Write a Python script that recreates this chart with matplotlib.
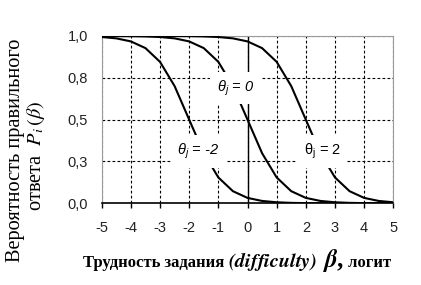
import matplotlib
matplotlib.use("Agg")
import matplotlib.pyplot as plt

# ---- data ----
beta = [-5.0, -4.5, -4.0, -3.5, -3.0, -2.5, -2.0, -1.5, -1.0, -0.5, 0.0,
        0.5, 1.0, 1.5, 2.0, 2.5, 3.0, 3.5, 4.0, 4.5, 5.0]
p_theta_m2 = [0.9939, 0.9859, 0.9677, 0.9276, 0.8455, 0.7006, 0.5000, 0.2994, 0.1545, 0.0724, 0.0323,
              0.0141, 0.0061, 0.0026, 0.0011, 0.0005, 0.0002, 0.0001, 0.0000, 0.0000, 0.0000]
p_theta_0 = [0.9998, 0.9995, 0.9989, 0.9974, 0.9939, 0.9859, 0.9677, 0.9276, 0.8455, 0.7006, 0.5000,
             0.2994, 0.1545, 0.0724, 0.0323, 0.0141, 0.0061, 0.0026, 0.0011, 0.0005, 0.0002]
p_theta_p2 = [1.0000, 1.0000, 0.9999, 0.9999, 0.9998, 0.9995, 0.9989, 0.9974, 0.9939, 0.9859, 0.9677,
              0.9276, 0.8455, 0.7006, 0.5000, 0.2994, 0.1545, 0.0724, 0.0323, 0.0141, 0.0061]
x_ticks = [-5, -4, -3, -2, -1, 0, 1, 2, 3, 4, 5]
y_ticks = [0.0, 0.25, 0.5, 0.75, 1.0]
y_tick_labels = ["0,0", "0,3", "0,5", "0,8", "1,0"]
curve_labels = [r"$\mathregular{\theta_j}$ = 0",
                r"$\mathregular{\theta_j}$ = -2",
                r"$\mathregular{\theta_j}$ = 2"]
curve_label_styles = ["italic", "italic", "normal"]
label_pos = [(-0.41, 0.69), (-1.68, 0.31), (2.57, 0.31)]

W, H = 421, 285
fig = plt.figure(figsize=(W / 100, H / 100), dpi=100)
ax = fig.add_axes([101.7 / W, 1 - 203.3 / H, (393.3 - 101.7) / W, (203.3 - 36) / H])

for yv in [p_theta_m2, p_theta_0, p_theta_p2]:
    ax.plot(beta, yv, color="black", lw=1.5, zorder=3)

ax.set_xlim(-5, 5)
ax.set_ylim(0, 1)
ax.set_xticks(x_ticks)
ax.set_xticklabels([str(v) for v in x_ticks])
ax.set_yticks(y_ticks)
ax.set_yticklabels(y_tick_labels)
ax.grid(True, color="black", linestyle=(0, (2.5, 2)), lw=0.8, zorder=1)
ax.axvline(0, color="black", lw=1.0, zorder=2)

for side in ["left", "top", "right"]:
    ax.spines[side].set_color("#9a9a9a")
    ax.spines[side].set_linewidth(0.8)
ax.spines["bottom"].set_color("black")
ax.spines["bottom"].set_linewidth(1.2)
ax.spines["bottom"].set_zorder(4)

ax.tick_params(axis="x", direction="out", length=3.5, width=1, pad=9,
               labelsize=10.5, labelcolor="#222222")
ax.tick_params(axis="y", length=0, pad=10, labelsize=10.5, labelcolor="#222222")
for t in ax.get_xticklabels() + ax.get_yticklabels():
    t.set_family("Liberation Sans")

for lab, st, (lx, ly) in zip(curve_labels, curve_label_styles, label_pos):
    ax.text(lx, ly, lab, ha="center", va="center", fontsize=10.5, style=st,
            family="Liberation Sans", math_fontfamily="dejavusans", zorder=5,
            bbox=dict(boxstyle="square,pad=0.45", facecolor="white", edgecolor="none"))

# y label (two rotated lines)
fig.text(16 / W, 1 - 150 / H, "Вероятность правильного", rotation=90,
         ha="center", va="center", fontsize=14.7, family="Liberation Serif")
fig.text(36 / W, 1 - 156 / H, r"ответа  $P_i\,(\beta)$", rotation=90,
         ha="center", va="center", fontsize=14.7, family="Liberation Serif",
         math_fontfamily="stix")

# x label built from pieces
renderer = fig.canvas.get_renderer()
pieces = [("Трудность задания ", dict(fontsize=12, weight="bold", family="Liberation Serif")),
          (r"$\mathbfit{(difficulty)}$", dict(fontsize=14.5, math_fontfamily="stix")),
          (r" $\mathbfit{\beta}$,", dict(fontsize=18, weight="bold", family="Liberation Serif",
                                        math_fontfamily="stix")),
          (" логит", dict(fontsize=12, weight="bold", family="Liberation Serif"))]
x0 = 83
base_y = 1 - 267 / H
for txt, kw in pieces:
    t = fig.text(x0 / W, base_y, txt, ha="left", va="baseline", **kw)
    bb = t.get_window_extent(renderer)
    x0 += bb.width

fig.savefig("out.png", dpi=100)
